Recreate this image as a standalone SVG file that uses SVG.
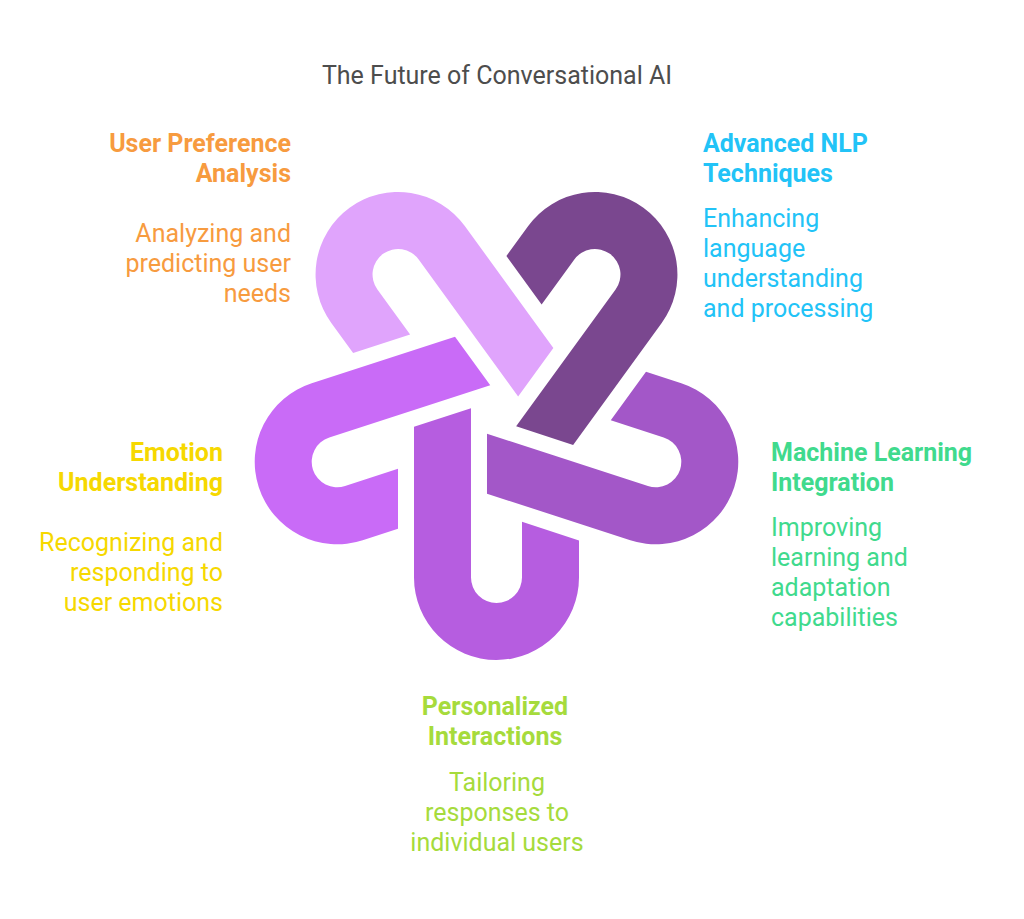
<svg xmlns="http://www.w3.org/2000/svg" xmlns:xlink="http://www.w3.org/1999/xlink" width="1024" height="919" viewBox="0 0 1024 919">
  <style>
    text { font-family: Roboto, "Liberation Sans", sans-serif; font-size: 25px; }
    .title { fill: #4d4d4d; }
    .h { font-weight: bold; }
    .r { text-anchor: end; }
    .m { text-anchor: middle; }
    .orange { fill: #F79B3F; }
    .cyan { fill: #22C3F7; }
    .green { fill: #40DA8D; }
    .yellow { fill: #F6D800; }
    .lime { fill: #A6DB3C; }
  </style>
  <defs>
    <path id="loop" d="M -82.5,16.81 L -25.5,-1.70 L -25.5,167.5 A 25.5 25.5 0 0 0 25.5,167.5 L 25.5,111.86 L 82.5,130.38 L 82.5,167.5 A 82.5 82.5 0 0 1 -82.5,167.5 Z"/>
  </defs>
  <rect width="1024" height="919" fill="#ffffff"/>
  <text class="title m" x="497" y="84">The Future of Conversational AI</text>

  <g id="personalized-interactions">
    <use xlink:href="#loop" href="#loop" transform="translate(496.5,410) rotate(0)" fill="#B65DE0"/>
    <text class="h m lime" x="495" y="715">Personalized</text>
    <text class="h m lime" x="495" y="745">Interactions</text>
    <text class="m lime" x="497" y="791">Tailoring</text>
    <text class="m lime" x="497" y="821">responses to</text>
    <text class="m lime" x="497" y="851">individual users</text>
  </g>

  <g id="emotion-understanding">
    <use xlink:href="#loop" href="#loop" transform="translate(496.5,410) rotate(72)" fill="#C96BF7"/>
    <text class="h r yellow" x="223" y="461">Emotion</text>
    <text class="h r yellow" x="223" y="491">Understanding</text>
    <text class="r yellow" x="223" y="551">Recognizing and</text>
    <text class="r yellow" x="223" y="581">responding to</text>
    <text class="r yellow" x="223" y="611">user emotions</text>
  </g>

  <g id="user-preference-analysis">
    <use xlink:href="#loop" href="#loop" transform="translate(496.5,410) rotate(144)" fill="#E0A4FC"/>
    <text class="h r orange" x="291" y="152">User Preference</text>
    <text class="h r orange" x="291" y="182">Analysis</text>
    <text class="r orange" x="291" y="242">Analyzing and</text>
    <text class="r orange" x="291" y="272">predicting user</text>
    <text class="r orange" x="291" y="302">needs</text>
  </g>

  <g id="advanced-nlp-techniques">
    <use xlink:href="#loop" href="#loop" transform="translate(496.5,410) rotate(216)" fill="#7A478F"/>
    <text class="h cyan" x="703" y="152">Advanced NLP</text>
    <text class="h cyan" x="703" y="182">Techniques</text>
    <text class="cyan" x="703" y="227">Enhancing</text>
    <text class="cyan" x="703" y="257">language</text>
    <text class="cyan" x="703" y="287">understanding</text>
    <text class="cyan" x="703" y="317">and processing</text>
  </g>

  <g id="machine-learning-integration">
    <use xlink:href="#loop" href="#loop" transform="translate(496.5,410) rotate(288)" fill="#A357C8"/>
    <text class="h green" x="771" y="461">Machine Learning</text>
    <text class="h green" x="771" y="491">Integration</text>
    <text class="green" x="771" y="536">Improving</text>
    <text class="green" x="771" y="566">learning and</text>
    <text class="green" x="771" y="596">adaptation</text>
    <text class="green" x="771" y="626">capabilities</text>
  </g>
</svg>
